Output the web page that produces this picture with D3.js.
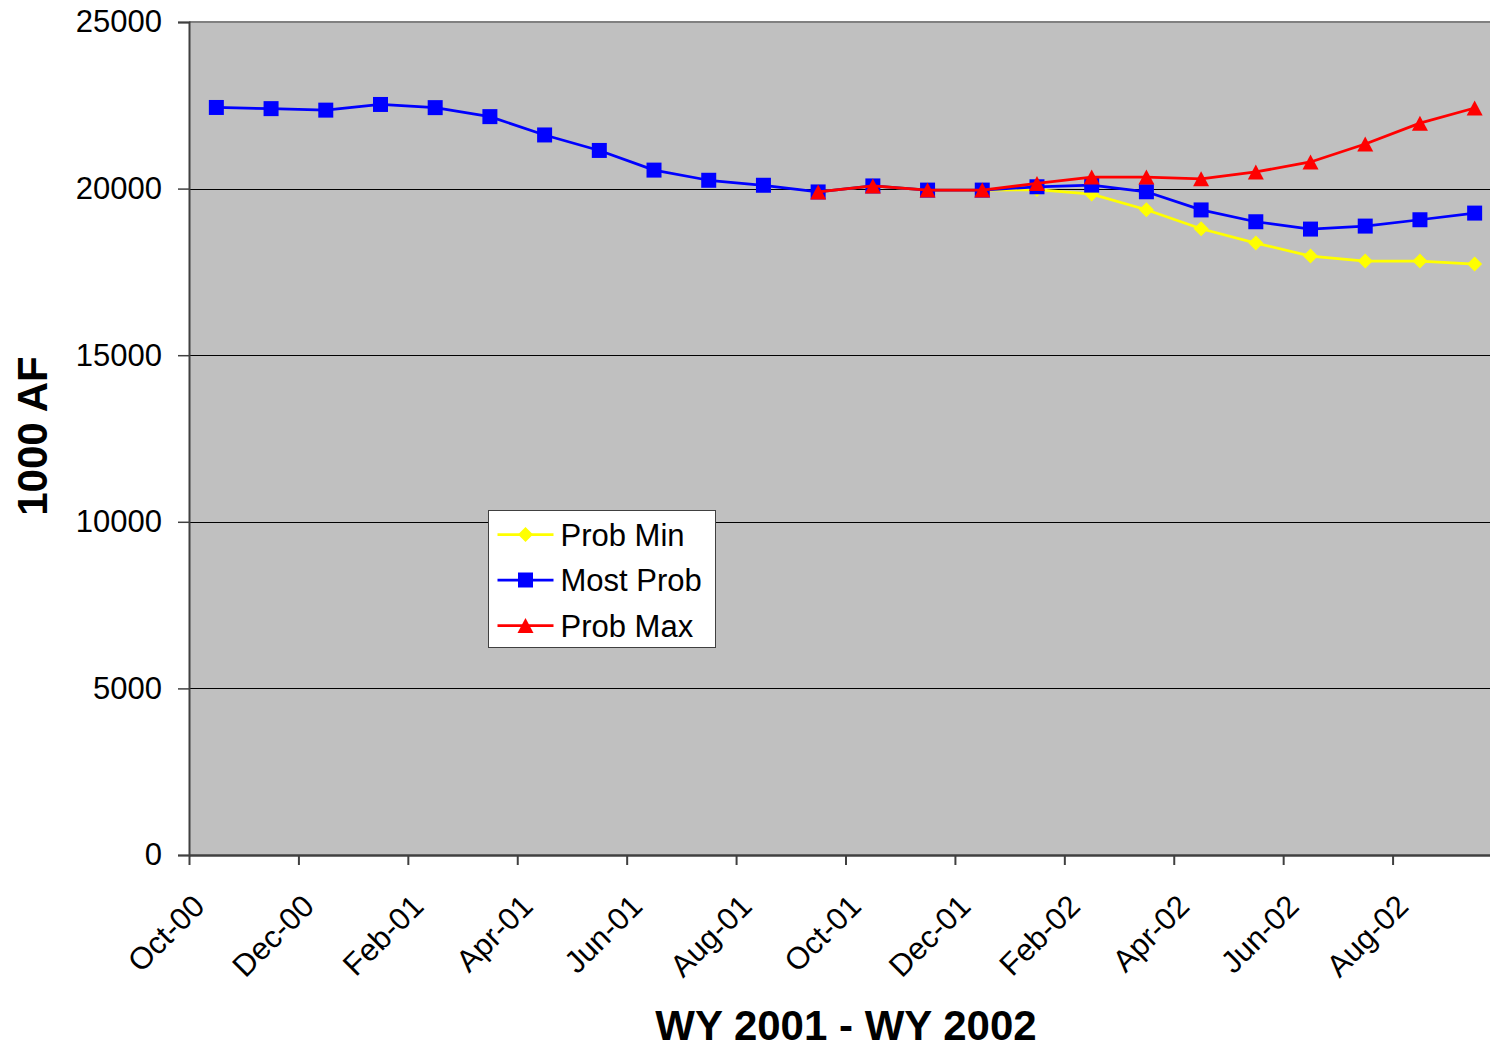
<!DOCTYPE html>
<meta charset="utf-8">
<style>
  body { margin: 0; background: #fff; }
  text { font-family: "Liberation Sans", Arial, sans-serif; fill: #000; }
  .plot-bg { fill: #c0c0c0; }
  .grid line { stroke: #000; stroke-width: 1; }
  .axis path, .axis line { stroke: #404040; }
  .axis text { font-size: 31px; }
  .title { font-size: 42px; font-weight: bold; }
  .series path.line { fill: none; stroke-width: 2.75; stroke-linejoin: round; }
</style>
<body>
<script src="https://d3js.org/d3.v7.min.js"></script>
<script>

  var width = 1490,
    height = 1050;

  // month categories, Oct-00 .. Sep-02
  var months = ["Oct-00", "Nov-00", "Dec-00", "Jan-01", "Feb-01", "Mar-01", "Apr-01", "May-01",
    "Jun-01", "Jul-01", "Aug-01", "Sep-01", "Oct-01", "Nov-01", "Dec-01", "Jan-02",
    "Feb-02", "Mar-02", "Apr-02", "May-02", "Jun-02", "Jul-02", "Aug-02", "Sep-02"];

  var yTicks = [0, 5000, 10000, 15000, 20000, 25000];

  var probMin = [null, null, null, null, null, null, null, null, null, null, null,
    19900, 20080, 19955, 19955, 19970, 19835, 19365, 18795, 18365, 17975, 17825, 17825, 17735];

  var mostProb = [22435, 22400, 22355, 22525, 22430, 22160, 21610, 21145, 20555, 20250, 20100,
    19900, 20080, 19955, 19955, 20055, 20105, 19905, 19360, 19005, 18785, 18875, 19065, 19265];

  var probMax = [null, null, null, null, null, null, null, null, null, null, null,
    19900, 20080, 19955, 19955, 20155, 20345, 20345, 20295, 20500, 20800, 21340, 21965, 22420];

  var seriesNames = ["Prob Min", "Most Prob", "Prob Max"];
  var seriesColors = ["#ffff00", "#0000ff", "#ff0000"];
  var seriesShapes = ["diamond", "square", "triangle"];

  var margin = { left: 189, top: 22, bottom: 855, right: 1502 };

  var x = d3.scaleLinear()
    .domain([0, months.length])
    .range([margin.left, margin.right]);

  var y = d3.scaleLinear()
    .domain([0, 25000])
    .range([margin.bottom, margin.top]);

  var svg = d3.select("body").append("svg")
    .attr("width", width)
    .attr("height", height);

  svg.append("rect")
    .attr("class", "plot-bg")
    .attr("x", margin.left)
    .attr("y", margin.top)
    .attr("width", margin.right - margin.left)
    .attr("height", margin.bottom - margin.top);

  // horizontal gridlines
  svg.append("g")
    .attr("class", "grid")
    .selectAll("line")
    .data(yTicks.filter(function (d) { return d > 0 && d < 25000; }))
    .enter().append("line")
    .attr("x1", margin.left)
    .attr("x2", margin.right)
    .attr("y1", function (d) { return Math.round(y(d)) + 0.5; })
    .attr("y2", function (d) { return Math.round(y(d)) + 0.5; });

  // top border of plot area
  svg.append("line")
    .attr("x1", margin.left).attr("x2", margin.right)
    .attr("y1", margin.top).attr("y2", margin.top)
    .attr("stroke", "#808080")
    .attr("stroke-width", 2);

  var yAxis = svg.append("g")
    .attr("class", "axis")
    .attr("transform", "translate(" + margin.left + ",0)")
    .call(d3.axisLeft(y).tickValues(yTicks).tickSize(11).tickPadding(16).tickFormat(d3.format("d")));
  yAxis.select(".domain").attr("stroke-width", 2);
  yAxis.selectAll(".tick line").attr("stroke-width", 1.5);

  var xAxis = svg.append("g")
    .attr("class", "axis")
    .attr("transform", "translate(0," + margin.bottom + ")")
    .call(d3.axisBottom(x)
      .tickValues(d3.range(0, months.length, 2))
      .tickSize(10)
      .tickSizeOuter(0)
      .tickFormat(function (i) { return months[i]; }));
  xAxis.select(".domain").attr("stroke-width", 2.5);
  xAxis.selectAll(".tick line").attr("stroke", "#606060").attr("stroke-width", 2);
  xAxis.selectAll(".tick text")
    .attr("text-anchor", "end")
    .attr("dy", null)
    .attr("y", null)
    .attr("transform", "translate(17,53) rotate(-45)");

  // axis titles
  svg.append("text")
    .attr("class", "title")
    .attr("text-anchor", "middle")
    .attr("x", 846)
    .attr("y", 1040)
    .text("WY 2001 - WY 2002");

  svg.append("text")
    .attr("class", "title")
    .attr("text-anchor", "middle")
    .attr("transform", "translate(47,436) rotate(-90)")
    .text("1000 AF");

  function markerPath(shape) {
    if (shape === "diamond") return "M0,-7.5L7.5,0L0,7.5L-7.5,0Z";
    if (shape === "triangle") return "M0,-7.5L8,7.5L-8,7.5Z";
    return "M-7.5,-7.5H7.5V7.5H-7.5Z";
  }

  var line = d3.line()
    .defined(function (d) { return d != null; })
    .x(function (d, i) { return x(i + 0.5); })
    .y(function (d) { return y(d); });

  var allSeries = [probMin, mostProb, probMax];

  allSeries.forEach(function (values, k) {
    var g = svg.append("g").attr("class", "series");
    g.append("path")
      .attr("class", "line")
      .attr("stroke", seriesColors[k])
      .attr("d", line(values));
    g.selectAll("path.marker")
      .data(values.map(function (v, i) { return { v: v, i: i }; }).filter(function (d) { return d.v != null; }))
      .enter().append("path")
      .attr("class", "marker")
      .attr("fill", seriesColors[k])
      .attr("transform", function (d) { return "translate(" + x(d.i + 0.5) + "," + y(d.v) + ")"; })
      .attr("d", markerPath(seriesShapes[k]));
  });

  // legend
  var legend = svg.append("g").attr("transform", "translate(488.5,510.5)");
  legend.append("rect")
    .attr("width", 227)
    .attr("height", 137)
    .attr("fill", "#fff")
    .attr("stroke", "#404040")
    .attr("stroke-width", 1);

  var item = legend.selectAll("g.item")
    .data(seriesNames)
    .enter().append("g")
    .attr("class", "item")
    .attr("transform", function (d, i) { return "translate(0," + (24 + i * 45.5) + ")"; });

  item.append("line")
    .attr("x1", 9).attr("x2", 65)
    .attr("stroke", function (d, i) { return seriesColors[i]; })
    .attr("stroke-width", 2.75);

  item.append("path")
    .attr("transform", "translate(37,0)")
    .attr("fill", function (d, i) { return seriesColors[i]; })
    .attr("d", function (d, i) { return markerPath(seriesShapes[i]); });

  item.append("text")
    .attr("x", 72)
    .attr("y", 11)
    .style("font-size", "31px")
    .text(function (d) { return d; });

</script>
